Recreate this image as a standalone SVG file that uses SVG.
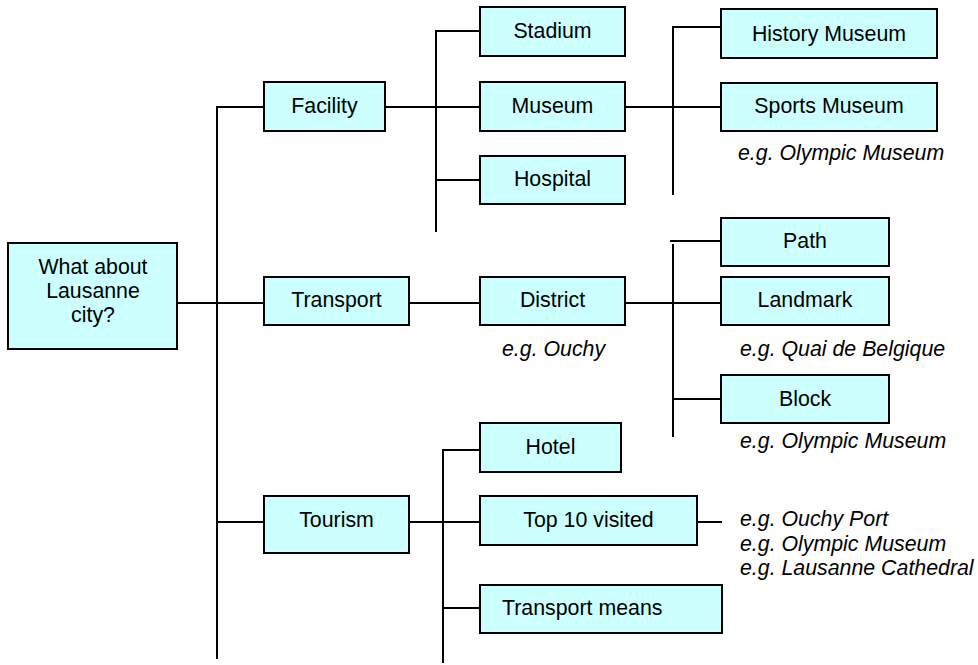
<svg xmlns="http://www.w3.org/2000/svg" width="978" height="665" viewBox="0 0 978 665">
<style>
rect{fill:#CCFFFF;stroke:#000;stroke-width:2}
text{font-family:"Liberation Sans",Arial,sans-serif;font-size:21.33px;fill:#000}
.c{text-anchor:middle}
.e{font-style:italic}
#connectors line{stroke:#000;stroke-width:2;fill:none}
</style>
<rect x="0" y="0" width="978" height="665" style="fill:#fff;stroke:none"/>
<g id="connectors">
<line x1="217" y1="106" x2="217" y2="659"/>
<line x1="216" y1="107" x2="264" y2="107"/>
<line x1="177" y1="303" x2="264" y2="303"/>
<line x1="216" y1="522" x2="264" y2="522"/>
<line x1="385" y1="107" x2="480" y2="107"/>
<line x1="436" y1="30" x2="436" y2="232"/>
<line x1="435" y1="31" x2="480" y2="31"/>
<line x1="435" y1="180" x2="480" y2="180"/>
<line x1="625" y1="107" x2="721" y2="107"/>
<line x1="673" y1="26" x2="673" y2="195"/>
<line x1="672" y1="27" x2="721" y2="27"/>
<line x1="409" y1="303" x2="480" y2="303"/>
<line x1="625" y1="303" x2="721" y2="303"/>
<line x1="670" y1="241" x2="721" y2="241"/>
<line x1="673" y1="244" x2="673" y2="437"/>
<line x1="672" y1="399" x2="721" y2="399"/>
<line x1="409" y1="522" x2="480" y2="522"/>
<line x1="443" y1="451" x2="443" y2="663"/>
<line x1="442" y1="450" x2="480" y2="450"/>
<line x1="442" y1="608" x2="480" y2="608"/>
<line x1="697" y1="522" x2="722" y2="522"/>
</g>
<g id="root"><rect x="8" y="243" width="169" height="106"/>
<text class="c" x="93" y="274">What about</text><text class="c" x="93" y="298">Lausanne</text><text class="c" x="93" y="322">city?</text></g>
<g id="facility"><rect x="264" y="82" width="121" height="49"/><text class="c" x="324.5" y="113">Facility</text></g>
<g id="transport"><rect x="264" y="277" width="145" height="48"/><text class="c" x="336.5" y="307">Transport</text></g>
<g id="tourism"><rect x="264" y="496" width="145" height="57"/><text class="c" x="336.5" y="527">Tourism</text></g>
<g id="stadium"><rect x="480" y="7" width="145" height="49"/><text class="c" x="552.5" y="38">Stadium</text></g>
<g id="museum"><rect x="480" y="82" width="145" height="49"/><text class="c" x="552.5" y="113">Museum</text></g>
<g id="hospital"><rect x="480" y="156" width="145" height="48"/><text class="c" x="552.5" y="186">Hospital</text></g>
<g id="district"><rect x="480" y="277" width="145" height="48"/><text class="c" x="552.5" y="307">District</text>
<text class="e" x="502" y="356">e.g. Ouchy</text></g>
<g id="hotel"><rect x="480" y="423" width="141" height="49"/><text class="c" x="550.5" y="454">Hotel</text></g>
<g id="top10"><rect x="480" y="496" width="217" height="49"/><text class="c" x="588.5" y="527">Top 10 visited</text></g>
<g id="top10-examples"><text class="e" x="740" y="526">e.g. Ouchy Port</text><text class="e" x="740" y="551">e.g. Olympic Museum</text><text class="e" x="740" y="575">e.g. Lausanne Cathedral</text></g>
<g id="transport-means"><rect x="480" y="585" width="242" height="48"/><text x="502" y="615">Transport means</text></g>
<g id="history-museum"><rect x="721" y="9" width="216" height="49"/><text class="c" x="829" y="41">History Museum</text></g>
<g id="sports-museum"><rect x="721" y="83" width="216" height="48"/><text class="c" x="829" y="113">Sports Museum</text>
<text class="e" x="738" y="160">e.g. Olympic Museum</text></g>
<g id="path"><rect x="721" y="218" width="168" height="48"/><text class="c" x="805" y="248">Path</text></g>
<g id="landmark"><rect x="721" y="277" width="168" height="48"/><text class="c" x="805" y="307">Landmark</text>
<text class="e" x="740" y="356">e.g. Quai de Belgique</text></g>
<g id="block"><rect x="721" y="375" width="168" height="48"/><text class="c" x="805" y="406">Block</text>
<text class="e" x="740" y="448">e.g. Olympic Museum</text></g>
</svg>
